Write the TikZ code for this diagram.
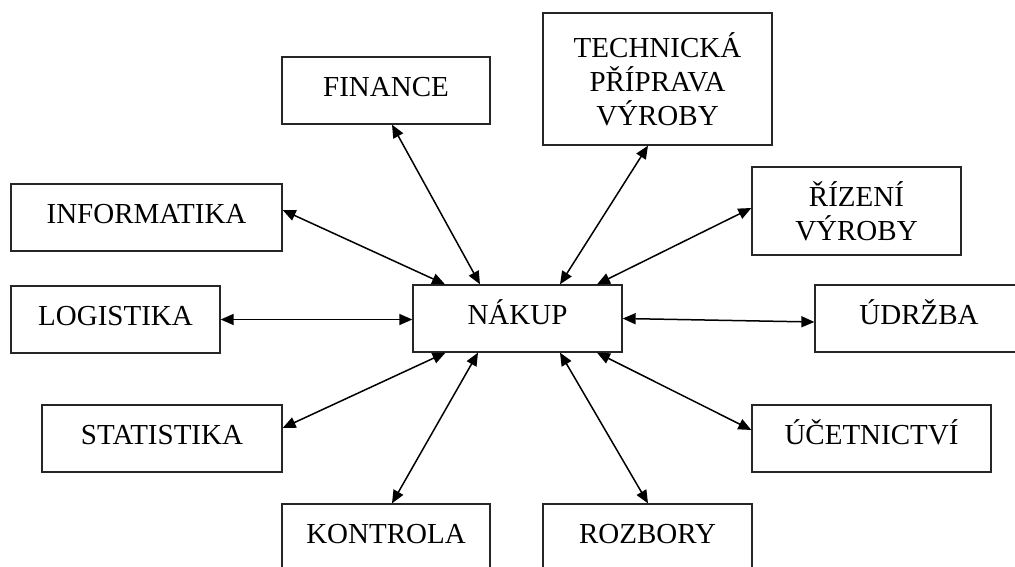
\documentclass[tikz,border=0pt]{standalone}
\usepackage{fontspec}
\setmainfont{Liberation Serif}
\usetikzlibrary{arrows.meta}
\begin{document}
\begin{tikzpicture}[x=1pt,y=-1pt,
  boxbase/.style={draw=black!85, line width=1.3pt, inner sep=0pt, align=center,
    font=\fontsize{29}{34}\selectfont},
  box/.style={boxbase, text height=20pt, text depth=8pt},
  link/.style={line width=1.5pt, {Triangle[length=13pt,width=11pt]}-{Triangle[length=13pt,width=11pt]}}]
\useasboundingbox (0,0) rectangle (1015,567);
\clip (0,0) rectangle (1015,567);
\node[box, minimum width=208pt, minimum height=67pt]  (fin)  at (386,90.5)   {FINANCE};
\node[boxbase, minimum width=229pt, minimum height=132pt] (tech) at (657.5,79)   {TECHNICKÁ\\PŘÍPRAVA\\VÝROBY};
\node[box, minimum width=271pt, minimum height=67pt]  (inf)  at (146.5,217.5) {INFORMATIKA};
\node[boxbase, minimum width=209pt, minimum height=88pt]  (riz)  at (856.5,211)  {ŘÍZENÍ\\VÝROBY};
\node[box, minimum width=209pt, minimum height=67pt]  (log)  at (115.5,319.5) {LOGISTIKA};
\node[box, minimum width=209pt, minimum height=67pt]  (nak)  at (517.5,318.5) {NÁKUP};
\node[box, minimum width=208pt, minimum height=67pt]  (udr)  at (919,318.5)  {ÚDRŽBA};
\node[box, minimum width=240pt, minimum height=67pt]  (sta)  at (162,438.5)  {STATISTIKA};
\node[box, minimum width=239pt, minimum height=67pt]  (uce)  at (871.5,438.5) {ÚČETNICTVÍ};
\node[box, minimum width=208pt, minimum height=67pt]  (kon)  at (386,537.5)  {KONTROLA};
\node[box, minimum width=209pt, minimum height=67pt]  (roz)  at (647.5,537.5) {ROZBORY};

\draw[link] ([xshift=6pt]fin.south) -- ([xshift=-37.5pt]nak.north);
\draw[link] ([xshift=-9.5pt]tech.south) -- ([xshift=42.5pt]nak.north);
\draw[link] ([yshift=7.5pt]inf.east) -- ([xshift=-72.5pt]nak.north);
\draw[link] ([yshift=3pt]riz.west) -- ([xshift=79.5pt]nak.north);
\draw[link] (log.east) -- (nak.west|-log.east);
\draw[link] (nak.east) -- ([yshift=-3.5pt]udr.west);
\draw[link] ([yshift=10.5pt]sta.east) -- ([xshift=-72pt]nak.south);
\draw[link] ([xshift=6pt]kon.north) -- ([xshift=-39.5pt]nak.south);
\draw[link] ([xshift=0.5pt]roz.north) -- ([xshift=42.5pt]nak.south);
\draw[link] ([yshift=8.5pt]uce.west) -- ([xshift=79.5pt]nak.south);
\end{tikzpicture}
\end{document}
